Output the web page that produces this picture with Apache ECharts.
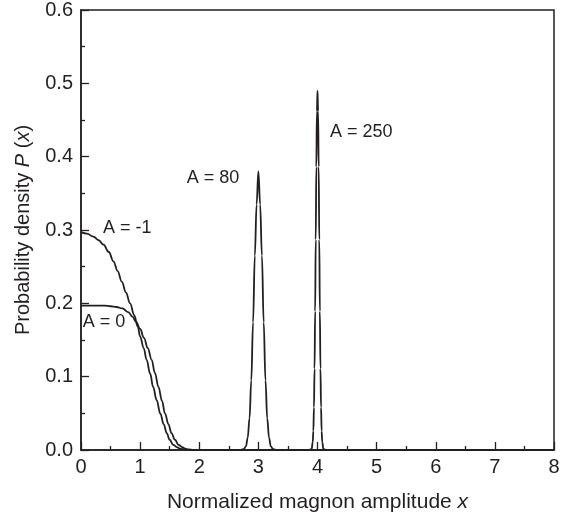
<!DOCTYPE html>
<html>
<head>
<meta charset="utf-8">
<script src="https://cdn.jsdelivr.net/npm/echarts@6/dist/echarts.min.js"></script>
<style>
html, body { margin: 0; padding: 0; background: #fff; }
#chart { width: 572px; height: 515px; }
</style>
</head>
<body>
<div id="chart"></div>
<script>
// data
var xNeg1 = [0, 0.1, 0.21, 0.3, 0.38, 0.47, 0.55, 0.62, 0.69, 0.76, 0.83, 0.9, 0.96, 1.0, 1.06, 1.11, 1.17, 1.22, 1.28, 1.34, 1.4, 1.45, 1.5, 1.56, 1.62, 1.67, 1.72, 1.78, 1.85, 2.0, 8];
var yNeg1 = [0.297, 0.295, 0.291, 0.286, 0.28, 0.27, 0.257, 0.244, 0.2295, 0.215, 0.2, 0.184, 0.168, 0.155, 0.139, 0.123, 0.104, 0.086, 0.068, 0.05, 0.035, 0.023, 0.014, 0.007, 0.004, 0.002, 0.001, 0.0003, 0, 0, 0];

var xZero = [0, 0.2, 0.4, 0.5, 0.6, 0.7, 0.8, 0.87, 0.93, 1.0, 1.065, 1.13, 1.195, 1.25, 1.31, 1.37, 1.42, 1.48, 1.53, 1.59, 1.65, 1.71, 1.76, 1.82, 1.9, 2.0, 8];
var yZero = [0.197, 0.197, 0.197, 0.196, 0.195, 0.193, 0.188, 0.182, 0.175, 0.165, 0.153, 0.139, 0.123, 0.105, 0.086, 0.067, 0.05, 0.035, 0.023, 0.014, 0.007, 0.004, 0.002, 0.0008, 0, 0, 0];

var x80 = [2.7, 2.75, 2.79, 2.82, 2.85, 2.88, 2.91, 2.94, 2.97, 3.0, 3.03, 3.06, 3.09, 3.12, 3.15, 3.18, 3.21, 3.25, 3.3];
var y80 = [0, 0.001, 0.005, 0.017, 0.043, 0.095, 0.174, 0.265, 0.335, 0.38, 0.335, 0.265, 0.174, 0.095, 0.043, 0.017, 0.005, 0.001, 0];

var x250 = [3.85, 3.9, 3.92, 3.93, 3.94, 3.95, 3.96, 3.97, 3.98, 3.99, 4.0, 4.01, 4.02, 4.03, 4.04, 4.05, 4.06, 4.07, 4.08, 4.1, 4.15];
var y250 = [0, 0.001, 0.011, 0.026, 0.058, 0.111, 0.189, 0.287, 0.386, 0.462, 0.49, 0.462, 0.386, 0.287, 0.189, 0.111, 0.058, 0.026, 0.011, 0.001, 0];

var curveNames = ['A = -1', 'A = 0', 'A = 80', 'A = 250'];
// where each label sits, in data units
var labelPos = [[0.37, 0.303], [0.03, 0.175], [1.79, 0.371], [4.21, 0.434]];

var xTicks = [0, 1, 2, 3, 4, 5, 6, 7, 8];
var yTicks = [0, 0.1, 0.2, 0.3, 0.4, 0.5, 0.6];

function pairs(xs, ys) {
    var out = [];
    for (var i = 0; i < xs.length; i++) {
        out.push([xs[i], ys[i]]);
    }
    return out;
}

var ink = '#231f20';
var font = 'Liberation Sans, Arial, sans-serif';

function curve(idx, xs, ys) {
    return {
        name: curveNames[idx],
        type: 'line',
        smooth: 0.4,
        smoothMonotone: 'x',
        symbol: 'none',
        lineStyle: { color: ink, width: 1.8 },
        data: pairs(xs, ys),
        markPoint: {
            symbol: 'circle',
            symbolSize: 0,
            silent: true,
            label: {
                show: true,
                position: 'right',
                distance: 0,
                color: ink,
                fontFamily: font,
                fontSize: 18,
                formatter: curveNames[idx]
            },
            data: [{ coord: labelPos[idx] }]
        }
    };
}

var dom = document.getElementById('chart');
var myChart = echarts.init(dom);
var option = {
    animation: false,
    grid: {
        left: 81,
        right: 18,
        top: 10,
        bottom: 65,
        containLabel: false,
        outerBoundsMode: 'none',
        show: true,
        borderColor: ink,
        borderWidth: 1.5
    },
    xAxis: {
        type: 'value',
        min: xTicks[0],
        max: xTicks[xTicks.length - 1],
        interval: 1,
        name: '{n|Normalized magnon amplitude }{i|x}',
        nameLocation: 'middle',
        nameGap: 42,
        nameTextStyle: {
            rich: {
                n: { fontFamily: font, fontSize: 21, color: ink },
                i: { fontFamily: font, fontSize: 21, color: ink, fontStyle: 'italic' }
            }
        },
        axisLine: { lineStyle: { color: ink, width: 1.5 } },
        axisTick: { inside: true, length: 8, lineStyle: { color: ink, width: 1.3 } },
        minorTick: { show: true, splitNumber: 2, length: 4, lineStyle: { color: ink, width: 1.3 } },
        splitLine: { show: false },
        axisLabel: { color: ink, fontFamily: font, fontSize: 20, margin: 7 }
    },
    yAxis: {
        type: 'value',
        min: yTicks[0],
        max: yTicks[yTicks.length - 1],
        interval: 0.1,
        name: '{n|Probability density }{i|P}{n| (}{i|x}{n|)}',
        nameLocation: 'middle',
        nameRotate: 90,
        nameGap: 48,
        nameTextStyle: {
            rich: {
                n: { fontFamily: font, fontSize: 20, color: ink },
                i: { fontFamily: font, fontSize: 20, color: ink, fontStyle: 'italic' }
            }
        },
        axisLine: { lineStyle: { color: ink, width: 1.5 } },
        axisTick: { inside: true, length: 8, lineStyle: { color: ink, width: 1.3 } },
        minorTick: { show: true, splitNumber: 2, length: 4, lineStyle: { color: ink, width: 1.3 } },
        splitLine: { show: false },
        axisLabel: {
            color: ink,
            fontFamily: font,
            fontSize: 20,
            margin: 8,
            formatter: function (v) { return v.toFixed(1); }
        }
    },
    series: [
        curve(0, xNeg1, yNeg1),
        curve(1, xZero, yZero),
        curve(2, x80, y80),
        curve(3, x250, y250)
    ]
};
myChart.setOption(option, true);
window.onresize = myChart.resize;
</script>
</body>
</html>
